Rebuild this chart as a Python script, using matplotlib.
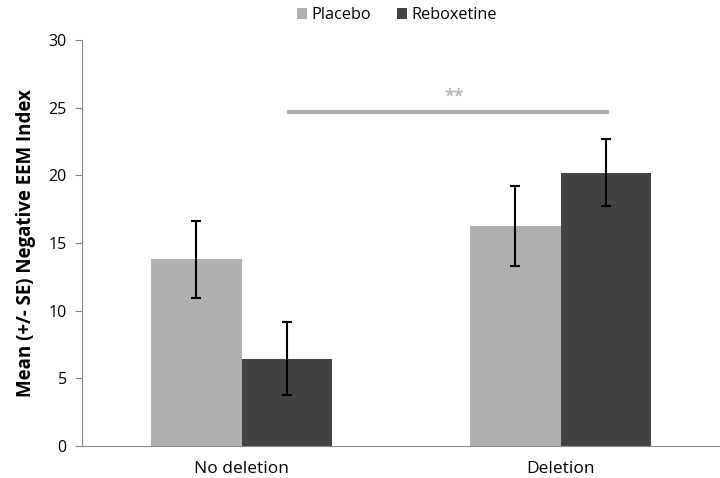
import matplotlib
matplotlib.use("Agg")
import matplotlib.pyplot as plt
import numpy as np

plt.rcParams['font.family'] = ['Open Sans', 'DejaVu Sans']

categories = ["No deletion", "Deletion"]
series_names = ["Placebo", "Reboxetine"]
placebo = [13.8, 16.25]
placebo_se = [2.85, 2.95]
reboxetine = [6.45, 20.2]
reboxetine_se = [2.68, 2.5]
sig_label = "**"
sig_y = 24.7

colors = ["#b0b0b0", "#424242"]

fig = plt.figure(figsize=(7.2, 4.78), dpi=100)
ax = fig.add_axes([0.1139, 0.0669, 0.8861, 0.8494])

x = np.arange(len(categories))
w = 0.283
ax.bar(x - w/2, placebo, w, color=colors[0], label=series_names[0],
       yerr=placebo_se, capsize=3.8, error_kw=dict(elinewidth=1.5, capthick=1.5, ecolor='black'))
ax.bar(x + w/2, reboxetine, w, color=colors[1], label=series_names[1],
       yerr=reboxetine_se, capsize=3.8, error_kw=dict(elinewidth=1.5, capthick=1.5, ecolor='black'))

ax.set_xlim(-0.5, 1.5)
ax.set_ylim(0, 30)
ax.set_yticks(range(0, 31, 5))
ax.set_xticks(x)
ax.set_xticklabels(categories, fontsize=12.5)
ax.tick_params(axis='x', length=0, pad=11)
ax.tick_params(axis='y', length=5, color='#888888', labelsize=11.5, pad=6)

for s in ['top', 'right']:
    ax.spines[s].set_visible(False)
ax.spines['left'].set_color('#888888')
ax.spines['bottom'].set_color('#888888')

ax.set_ylabel("Mean (+/- SE) Negative EEM Index", fontsize=13.5, fontweight='bold', labelpad=9)

# significance line
ax.plot([0.143, 1.152], [sig_y, sig_y], color='#b0b0b0', lw=3, solid_capstyle='butt')
ax.text(0.668, sig_y + 0.45, sig_label, ha='center', va='bottom', color='#b8b8b8',
        fontsize=13, fontweight='bold')

leg = ax.legend(loc='lower center', bbox_to_anchor=(0.494, 1.005), ncol=2, frameon=False,
                fontsize=11.7, handlelength=0.6, handleheight=0.6, handletextpad=0.3,
                columnspacing=1.6)

fig.savefig("out.png", dpi=100)
